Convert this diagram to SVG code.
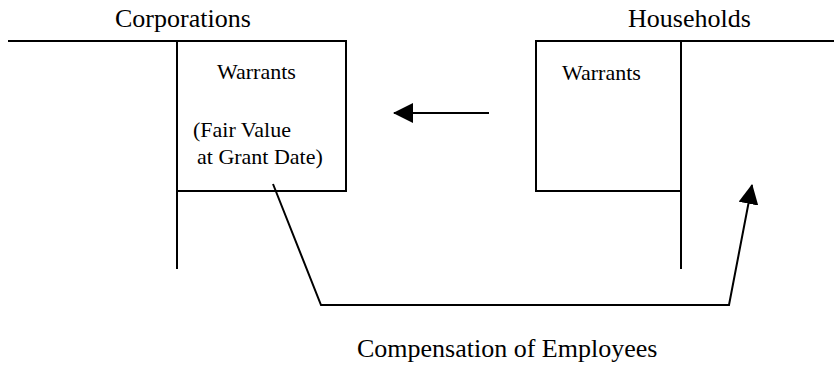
<svg xmlns="http://www.w3.org/2000/svg" width="834" height="368" viewBox="0 0 834 368">
<style>
.ln{fill:none;stroke:#000;stroke-width:2}
.big{font-family:"Liberation Serif","Times New Roman",serif;font-size:26px;fill:#000}
.sm{font-family:"Liberation Serif","Times New Roman",serif;font-size:22px;fill:#000}
</style>
<defs>
<marker id="ah" markerUnits="userSpaceOnUse" markerWidth="20" markerHeight="20" refX="19" refY="10" orient="auto">
<path d="M0,0 L20,10 L0,20 z" fill="#000"/>
</marker>
</defs>
<rect width="834" height="368" fill="#fff"/>
<g id="corporations">
<text class="big" x="115" y="27">Corporations</text>
<path class="ln" d="M8,41 H346 M177,41 V269"/>
</g>
<g id="corp-warrants">
<rect class="ln" x="177" y="41" width="169" height="150"/>
<text class="sm" x="217" y="79">Warrants</text>
<text class="sm" x="193" y="137">(Fair Value</text>
<text class="sm" x="197" y="164">at Grant Date)</text>
</g>
<g id="households">
<text class="big" x="628" y="27">Households</text>
<path class="ln" d="M536,41 H834 M681,41 V269"/>
</g>
<g id="hh-warrants">
<rect class="ln" x="536" y="41" width="145" height="150"/>
<text class="sm" x="562" y="80">Warrants</text>
</g>
<g id="connectors">
<line class="ln" x1="489" y1="113" x2="394" y2="113" marker-end="url(#ah)"/>
<polyline class="ln" points="273,184 321,305 729,305 752,185" marker-end="url(#ah)"/>
</g>
<g id="label">
<text class="big" x="357" y="357">Compensation of Employees</text>
</g>
</svg>
